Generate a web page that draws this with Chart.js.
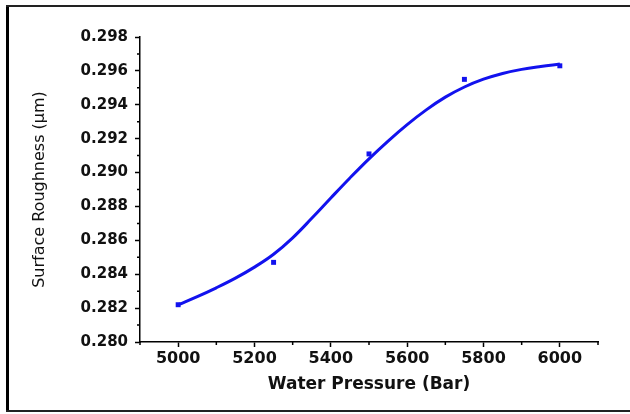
<!DOCTYPE html>
<html>
<head>
<meta charset="utf-8">
<script src="https://cdn.jsdelivr.net/npm/chart.js@4"></script>
<style>
  html, body { margin: 0; padding: 0; background: #fff; overflow: hidden; }
  canvas { display: block; }
</style>
</head>
<body>
<canvas id="chart" width="630" height="414"></canvas>
<script>
// measured points
const pressure = [5000, 5250, 5500, 5750, 6000];
const roughness = [0.2822, 0.2847, 0.2911, 0.2955, 0.2963];

// fitted curve
const fitPressure = [5000, 5050, 5100, 5150, 5200, 5250, 5300, 5350, 5400, 5450, 5500,
                     5550, 5600, 5650, 5700, 5750, 5800, 5850, 5900, 5950, 6000];
const fitRoughness = [0.28220, 0.28268, 0.28320, 0.28377, 0.28442, 0.28518, 0.28615, 0.28730, 0.28850, 0.28968, 0.29081,
                      0.29186, 0.29283, 0.29370, 0.29445, 0.29505, 0.29551, 0.29585, 0.29609, 0.29626, 0.29640];

// axis ticks
const xTicks = [5000, 5200, 5400, 5600, 5800, 6000];
const xMinor = [4900, 5100, 5300, 5500, 5700, 5900, 6100];
const yTicks = [0.280, 0.282, 0.284, 0.286, 0.288, 0.290, 0.292, 0.294, 0.296, 0.298];
const yMinor = [0.281, 0.283, 0.285, 0.287, 0.289, 0.291, 0.293, 0.295, 0.297];

const blue = '#1212ee';
const tickFont = { family: 'DejaVu Sans', weight: 'bold', size: 15 };

// outer box (left, top, bottom only) and short minor tick marks
const extras = {
  id: 'extras',
  beforeDraw(chart){
    const ctx = chart.ctx;
    ctx.save();
    ctx.fillStyle = '#000';
    ctx.fillRect(6, 5, 3, 407);
    ctx.fillStyle = '#222';
    ctx.fillRect(6, 5, 624, 2);
    ctx.fillRect(6, 410, 624, 2);
    ctx.restore();
  },
  afterDraw(chart){
    const ctx = chart.ctx, x = chart.scales.x, y = chart.scales.y;
    ctx.save();
    ctx.strokeStyle = '#000';
    ctx.lineWidth = 1.5;
    ctx.beginPath();
    xMinor.forEach(v => {
      const px = x.getPixelForValue(v);
      ctx.moveTo(px, x.top); ctx.lineTo(px, x.top + 3);
    });
    yMinor.forEach(v => {
      const py = y.getPixelForValue(v);
      ctx.moveTo(y.right, py); ctx.lineTo(y.right - 3, py);
    });
    ctx.stroke();
    ctx.restore();
  }
};

new Chart(document.getElementById('chart'), {
  type: 'scatter',
  data: {
    datasets: [
      {
        type: 'line',
        data: fitPressure.map((p, i) => ({ x: p, y: fitRoughness[i] })),
        borderColor: blue, borderWidth: 3, pointRadius: 0,
        tension: 0.4, fill: false
      },
      {
        data: pressure.map((p, i) => ({ x: p, y: roughness[i] })),
        backgroundColor: blue, borderColor: blue, borderWidth: 0,
        pointStyle: 'rect', pointRadius: 3.5
      }
    ]
  },
  options: {
    responsive: false,
    animation: false,
    layout: { padding: { left: 0, top: 37, right: 32, bottom: 0 } },
    plugins: { legend: { display: false }, tooltip: { enabled: false } },
    scales: {
      x: {
        type: 'linear', min: 4900, max: 6100,
        afterFit(s){ s.height = 72; },
        afterBuildTicks(s){ s.ticks = xTicks.map(v => ({ value: v })); },
        grid: { drawOnChartArea: false, drawTicks: true, tickLength: 5, tickWidth: 1.5, tickColor: '#000' },
        border: { display: true, color: '#000', width: 1.5 },
        ticks: { color: '#111', font: { family: 'DejaVu Sans', weight: 'bold', size: 16 }, padding: 2,
                 maxRotation: 0, callback: v => String(v) },
        title: { display: true, text: 'Water Pressure (Bar)', color: '#111',
                 font: { family: 'DejaVu Sans', weight: 'bold', size: 17 }, padding: { top: 0, bottom: 19 } }
      },
      y: {
        min: 0.280, max: 0.298,
        afterFit(s){ s.width = 140; },
        afterBuildTicks(s){ s.ticks = yTicks.map(v => ({ value: v })); },
        grid: { drawOnChartArea: false, drawTicks: true, tickLength: 5, tickWidth: 1.5, tickColor: '#000' },
        border: { display: true, color: '#000', width: 1.5 },
        ticks: { color: '#111', font: tickFont, padding: 7, callback: v => v.toFixed(3) },
        title: { display: true, text: 'Surface Roughness (\u03bcm)', color: '#111',
                 font: { family: 'DejaVu Sans', size: 16 }, padding: { top: 30, bottom: 0 } }
      }
    }
  },
  plugins: [extras]
});
</script>
</body>
</html>
